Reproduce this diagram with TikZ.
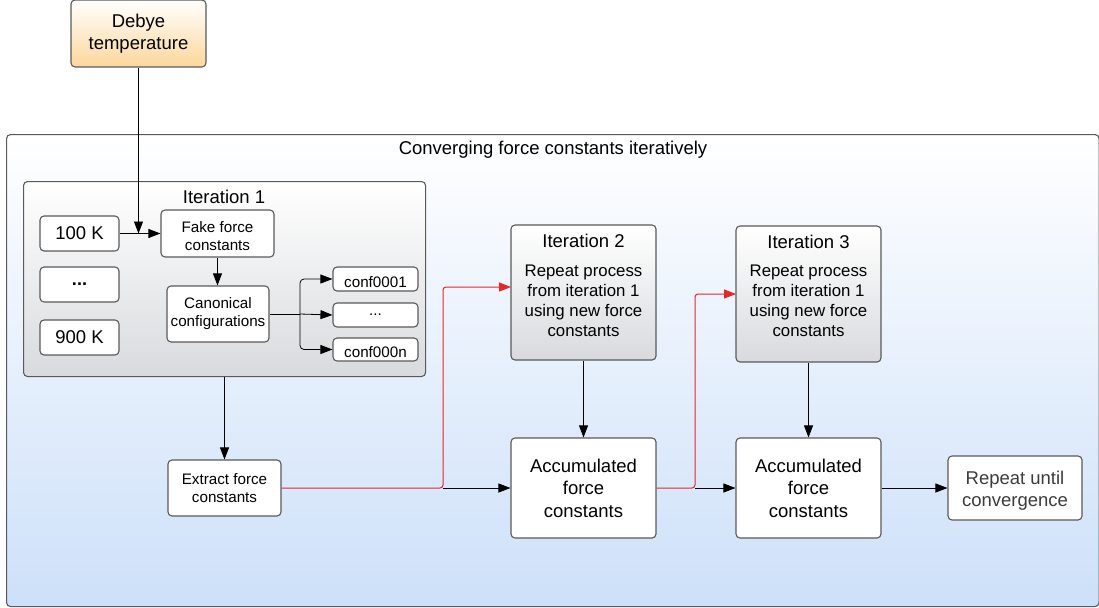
\documentclass[tikz,border=0pt]{standalone}
\usepackage{fontspec}
\setmainfont{Liberation Sans}
\usetikzlibrary{arrows.meta,calc}
\definecolor{bord}{HTML}{5A5A5A}
\definecolor{redl}{HTML}{E8262A}
\definecolor{graytxt}{HTML}{3C3C3C}
\definecolor{grayb}{HTML}{D8DADD}
\definecolor{blueb}{HTML}{CDE0F9}
\definecolor{oranb}{HTML}{FCD79B}
\tikzset{
  box/.style={draw=bord, line width=1.1pt, rounded corners=4pt, fill=white, inner sep=0pt, align=center, text=black},
  graybox/.style={box, top color=white, bottom color=grayb},
  txt/.style={inner sep=0pt, align=center},
  arr/.style={-{Triangle[length=12pt,width=9pt]}, line width=0.8pt, black},
  redarr/.style={-{Triangle[length=12pt,width=9pt]}, line width=1pt, redl, rounded corners=3pt},
  ln/.style={line width=0.8pt, black},
  big/.style={font=\fontsize{18.5}{22}\selectfont},
  small/.style={font=\fontsize{15.2}{18}\selectfont},
}
\begin{document}
\begin{tikzpicture}[x=1pt,y=-1pt]
\useasboundingbox (0,0) rectangle (1099,607);
% outer container
\node[box, top color=white, bottom color=blueb, minimum width=1092.5pt, minimum height=472pt, anchor=north west] (outer) at (6,134) {};
\node[txt, big] (outert) at (553,150) {Converging force constants iteratively};
% Debye
\node[box, top color=white, bottom color=oranb, minimum width=135pt, minimum height=67pt, big] (deb) at (138.5,33.5) {Debye\\temperature};
% Iteration 1
\node[graybox, minimum width=402pt, minimum height=195pt, anchor=north west] (it1) at (23,181) {};
\node[txt, big] (it1t) at (224,197) {Iteration 1};
\node[box, minimum width=79pt, minimum height=35pt, big] (k100) at (79.5,233.5) {100 K};
\node[box, minimum width=79pt, minimum height=35pt, font=\fontsize{18}{21}\bfseries\selectfont] (kdots) at (79.5,284.5) {...};
\node[box, minimum width=79pt, minimum height=35pt, big] (k900) at (79.5,337.5) {900 K};
\node[box, minimum width=113pt, minimum height=47pt] (fake) at (217.5,233.5) {};
\node[txt, small] (faket) at (217.5,236) {Fake force\\constants};
\node[box, minimum width=102pt, minimum height=56pt, small] (canon) at (218,314) {Canonical\\configurations};
\node[box, minimum width=85pt, minimum height=24pt] (c1) at (375.5,279) {};
\node[txt, small] (c1t) at (375.5,282) {conf0001};
\node[box, minimum width=85pt, minimum height=24pt, small] (c2) at (375.5,315) {...};
\node[box, minimum width=85pt, minimum height=23pt] (c3) at (375.5,349.5) {};
\node[txt, small] (c3t) at (375.5,352.5) {conf000n};
% Extract
\node[box, minimum width=113pt, minimum height=56pt, small] (ext) at (224.5,488) {Extract force\\constants};
% Iteration 2 and 3
\node[graybox, minimum width=145pt, minimum height=135pt] (it2) at (583.5,292.5) {};
\node[txt, big] (it2t) at (583.5,241) {Iteration 2};
\node[txt, font=\fontsize{16.8}{20}\selectfont] (it2b) at (583.5,301) {Repeat process\\from iteration 1\\using new force\\constants};
\node[graybox, minimum width=145pt, minimum height=136pt] (it3) at (808.5,294) {};
\node[txt, big] (it3t) at (808.5,242) {Iteration 3};
\node[txt, font=\fontsize{16.8}{20}\selectfont] (it3b) at (808.5,301) {Repeat process\\from iteration 1\\using new force\\constants};
% Accumulated
\node[box, minimum width=145pt, minimum height=100pt, font=\fontsize{18.5}{22.5}\selectfont] (acc1) at (583.5,488) {Accumulated\\force\\constants};
\node[box, minimum width=145pt, minimum height=100pt, font=\fontsize{18.5}{22.5}\selectfont] (acc2) at (808.5,488) {Accumulated\\force\\constants};
\node[box, minimum width=134pt, minimum height=64pt] (rep) at (1015,488) {};
\node[txt, text=graytxt, big] (rept) at (1015,490.5) {Repeat until\\convergence};
% connectors
\draw[arr] (deb.south) -- (deb.south |- k100.east);
\draw[arr] (k100.east) -- (fake.west |- k100.east);
\draw[arr] (fake.south) -- (fake.south |- canon.north);
\coordinate (br) at (300,314);
\draw[ln] (canon.east) -- (br);
\draw[arr, rounded corners=4pt] (br) |- (c1.west);
\draw[arr] (br) -- (c2.west);
\draw[arr, rounded corners=4pt] (br) |- (c3.west);
\draw[arr] (it1.south -| ext.north) -- (ext.north);
\coordinate (r1) at (443,488);
\coordinate (r1in) at (511,287);
\draw[redarr] (ext.east) -- (r1) |- (r1in);
\draw[arr] (r1) -- (acc1.west);
\coordinate (r2) at (695,488);
\coordinate (r2in) at (736,294);
\draw[redarr] (acc1.east) -- (r2) |- (r2in);
\draw[arr] (r2) -- (acc2.west);
\draw[arr] (it2.south) -- (acc1.north);
\draw[arr] (it3.south) -- (acc2.north);
\draw[arr] (acc2.east) -- (rep.west);
\end{tikzpicture}
\end{document}
